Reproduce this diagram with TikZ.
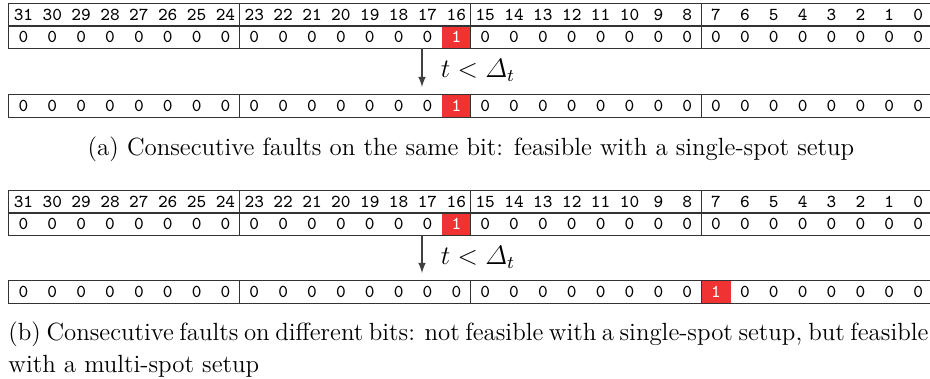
\documentclass[tikz,border=0pt]{standalone}
\usepackage{amsmath}
\usepackage{fontspec}
\definecolor{faultred}{RGB}{240,50,50}

\begin{document}
\begin{tikzpicture}[x=0.45pt, y=-0.45pt,
    bit/.style={minimum width=12.99pt, minimum height=9.9pt, inner sep=0pt,
      font=\ttfamily\fontsize{8.2}{9}\selectfont},
    flip/.style={bit, fill=faultred, text=white},
    frame/.style={draw=black!80, line width=0.5pt},
    delay/.style={font=\fontsize{11.5}{13}\selectfont},
    captext/.style={font=\fontsize{11.2}{14.6}\selectfont, inner sep=0pt}]
  \useasboundingbox (0,0) rectangle (930,379);
  \clip (0,0) rectangle (930,379);

  % (a) same bit
  \foreach \b in {0,...,31} {
    \node[bit] (ha\b) at ({23.43+28.86*(31-\b)},15) {\b};
    \ifnum\b=16
      \node[flip] (da\b) at ({23.43+28.86*(31-\b)},37) {1};
      \node[flip] (ra\b) at ({23.43+28.86*(31-\b)},106) {1};
    \else
      \node[bit] (da\b) at ({23.43+28.86*(31-\b)},37) {0};
      \node[bit] (ra\b) at ({23.43+28.86*(31-\b)},106) {0};
    \fi
  }
  \draw[frame] (ha31.north west) rectangle (ha0.south east);
  \draw[frame] (da31.north west) rectangle (da0.south east);
  \draw[frame] (ra31.north west) rectangle (ra0.south east);
  \foreach \g in {23,15,7} {
    \draw[frame] (ha\g.north west) -- (da\g.south west);
    \draw[frame] (ra\g.north west) -- (ra\g.south west);
  }
  \coordinate (fa) at (422,48);
  \coordinate (ta) at (422,87);
  \draw[-latex, black!75, line width=0.6pt] (fa) -- (ta);
  \node[delay] (lta) at (478,70) {$t < \varDelta_t$};
  \node[captext] (capa) at (471,149) {(a) Consecutive faults on the same bit: feasible with a single-spot setup};

  % (b) different bits
  \foreach \b in {0,...,31} {
    \node[bit] (hb\b) at ({23.43+28.86*(31-\b)},202) {\b};
    \ifnum\b=16
      \node[flip] (db\b) at ({23.43+28.86*(31-\b)},224) {1};
    \else
      \node[bit] (db\b) at ({23.43+28.86*(31-\b)},224) {0};
    \fi
    \ifnum\b=7
      \node[flip] (rb\b) at ({23.43+28.86*(31-\b)},292) {1};
    \else
      \node[bit] (rb\b) at ({23.43+28.86*(31-\b)},292) {0};
    \fi
  }
  \draw[frame] (hb31.north west) rectangle (hb0.south east);
  \draw[frame] (db31.north west) rectangle (db0.south east);
  \draw[frame] (rb31.north west) rectangle (rb0.south east);
  \foreach \g in {23,15,7} {
    \draw[frame] (hb\g.north west) -- (db\g.south west);
    \draw[frame] (rb\g.north west) -- (rb\g.south west);
  }
  \coordinate (fb) at (422,235);
  \coordinate (tb) at (422,273);
  \draw[-latex, black!75, line width=0.6pt] (fb) -- (tb);
  \node[delay] (ltb) at (478,257) {$t < \varDelta_t$};
  \node[captext, anchor=north west, align=left] (capb) at (8,321)
    {\hbox to 414pt{(b) Consecutive faults on different bits: not feasible with a single-spot setup, but feasible}\\
     with a multi-spot setup};
\end{tikzpicture}
\end{document}
